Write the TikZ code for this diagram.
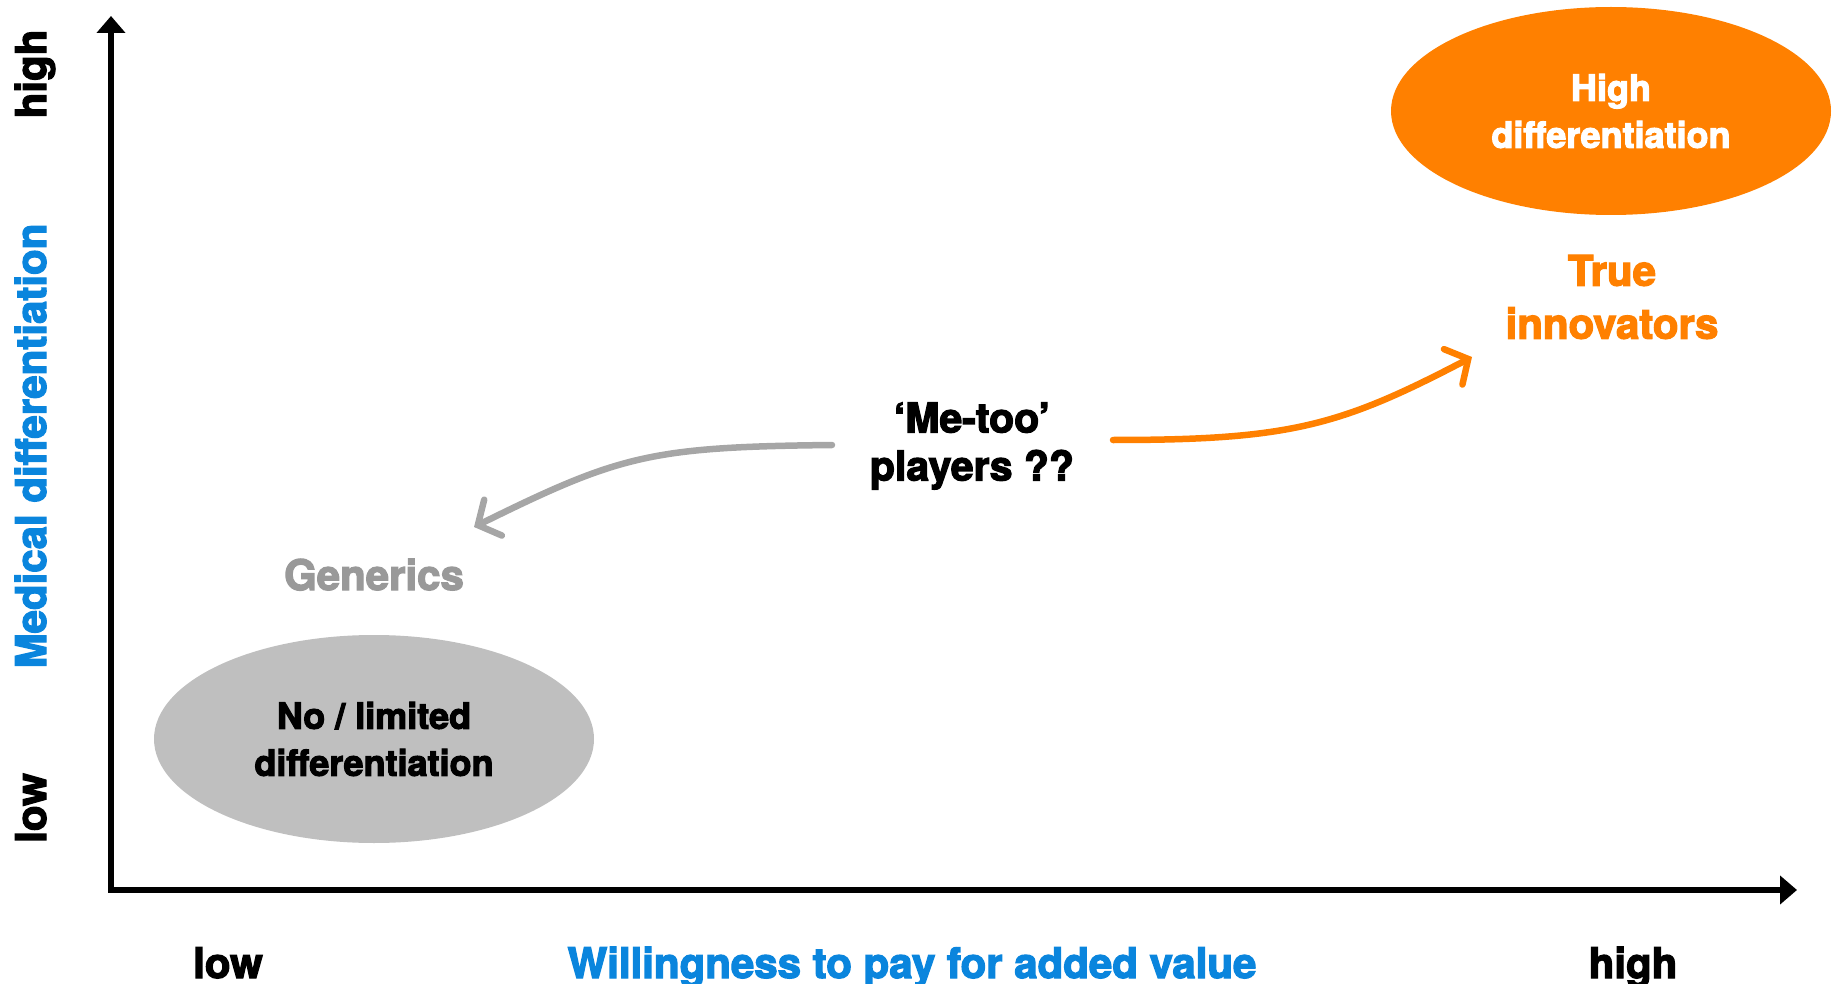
\documentclass[tikz,border=0pt]{standalone}
\usepackage{fontspec}
\setmainfont{TeX Gyre Heros}[BoldFeatures={FakeBold=3}]
\usetikzlibrary{arrows.meta,shapes.geometric}
\definecolor{axblue}{HTML}{0A85DD}
\definecolor{orng}{HTML}{FF8000}
\definecolor{ellgray}{HTML}{BFBFBF}
\definecolor{txtgray}{HTML}{999999}
\definecolor{arrgray}{HTML}{A6A6A6}
\tikzset{
  lbl/.style={font=\bfseries\fontsize{42}{53}\selectfont, inner sep=0pt, anchor=base},
  vlbl/.style={lbl, rotate=90},
  blob/.style={ellipse, minimum width=440pt, minimum height=208pt, inner sep=0pt, align=center,
     font=\bfseries\fontsize{36}{47}\selectfont},
  axisline/.style={line width=6pt, -{Triangle[length=17pt,width=28pt]}},
  curvearr/.style={line width=6.5pt, line cap=round, -{Straight Barb[length=17pt,width=40pt,line cap=round]}},
  ml/.style={font=\bfseries\fontsize{41}{48}\selectfont, inner sep=0pt, align=center}
}
\begin{document}
\begin{tikzpicture}[x=1pt,y=-1pt]
\useasboundingbox (0,0) rectangle (1832,984);
% axes
\coordinate (O) at (111,890);
\coordinate (ytip) at (111,16);
\coordinate (xtip) at (1797,890);
\draw[axisline] ([yshift=3pt]O) -- (ytip);
\draw[axisline] ([xshift=-3pt]O) -- (xtip);
% axis labels
\node[vlbl] (yhigh) at (46,74) {high};
\node[vlbl, text=axblue] (ytitle) at (46,446) {Medical differentiation};
\node[vlbl] (ylow) at (46,808) {low};
\node[lbl] (xlow) at (228,978) {low};
\node[lbl, text=axblue] (xtitle) at (912,978) {Willingness to pay for added value};
\node[lbl] (xhigh) at (1633,978) {high};
% ellipses
\node[blob, fill=ellgray] (nolim) at (374,739) {No / limited\\differentiation};
\node[blob, fill=orng, text=white] (highdiff) at (1611,111) {High\\differentiation};
% labels
\node[lbl, text=txtgray] (gen) at (374,590) {Generics};
\node[ml, text=orng, font=\bfseries\fontsize{42}{53}\selectfont] (true) at (1612,297) {True\\innovators};
\node[ml] (metoo) at (972,446) {‘Me-too’\\players ??};
% curved arrows
\coordinate (gs) at (832,445);
\coordinate (ge) at (474,527);
\coordinate (os) at (1113,440);
\coordinate (oe) at (1472,357);
\draw[curvearr, arrgray] (gs) .. controls (650,447) and (620,455) .. (ge);
\draw[curvearr, orng] (os) .. controls (1290,440) and (1340,426) .. (oe);
\end{tikzpicture}
\end{document}
